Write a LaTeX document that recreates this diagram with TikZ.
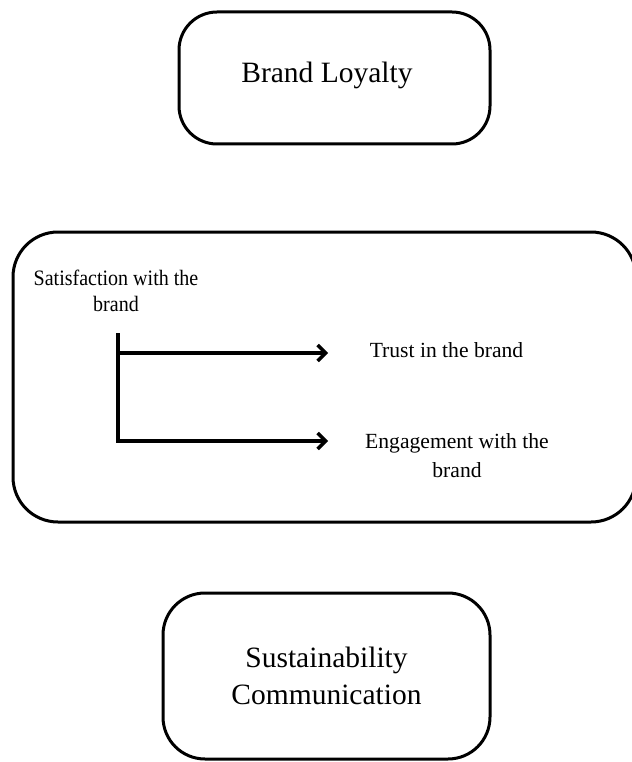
\documentclass[tikz,border=0pt]{standalone}
\usepackage{fontspec}
\setmainfont{Liberation Serif}
\newfontfamily\condfont[FakeStretch=0.91]{Liberation Serif}
\usetikzlibrary{arrows.meta}
\tikzset{
  boxframe/.style={draw=black, line width=3pt, rounded corners=#1, inner sep=0pt},
  bigtext/.style={font=\fontsize{29.5}{37}\selectfont, align=center, inner sep=0pt},
  midtext/.style={font=\fontsize{21.6}{29}\selectfont, align=center, inner sep=0pt},
  linkline/.style={line width=3.5pt, line join=miter},
  linkarrow/.style={linkline, -{Straight Barb[length=8pt,width=16pt,line width=3.5pt]}}
}
\begin{document}
\begin{tikzpicture}[x=1pt,y=-1pt]
\useasboundingbox (0,0) rectangle (631,762);
% top box
\node[boxframe=38pt, minimum width=311pt, minimum height=132pt] (loyalbox) at (334.5,78) {};
\node[bigtext, anchor=base] (loyal) at (327,83) {Brand Loyalty};
% middle box
\node[boxframe=45pt, minimum width=623pt, minimum height=290pt] (midbox) at (324.5,377) {};
\node[font=\condfont\fontsize{22}{26}\selectfont, align=center, inner sep=0pt, anchor=base] (sat) at (116,311) {Satisfaction with the\\brand};
\node[midtext, anchor=base] (trust) at (446.5,357) {Trust in the brand};
\node[midtext, anchor=base] (engage) at (457,477) {Engagement with the\\brand};
\coordinate (vtop) at (118,333);
\coordinate (j1) at (118,353);
\coordinate (j2) at (118,441);
\coordinate (tip1) at (328,353);
\coordinate (tip2) at (328,441);
\draw[linkarrow] (vtop) -- (j2) -- (tip2);
\draw[linkarrow] (j1) -- (tip1);
% bottom box
\node[boxframe=42pt, minimum width=327pt, minimum height=166pt, bigtext] (sust) at (326.5,676) {Sustainability\\Communication};
\end{tikzpicture}
\end{document}
